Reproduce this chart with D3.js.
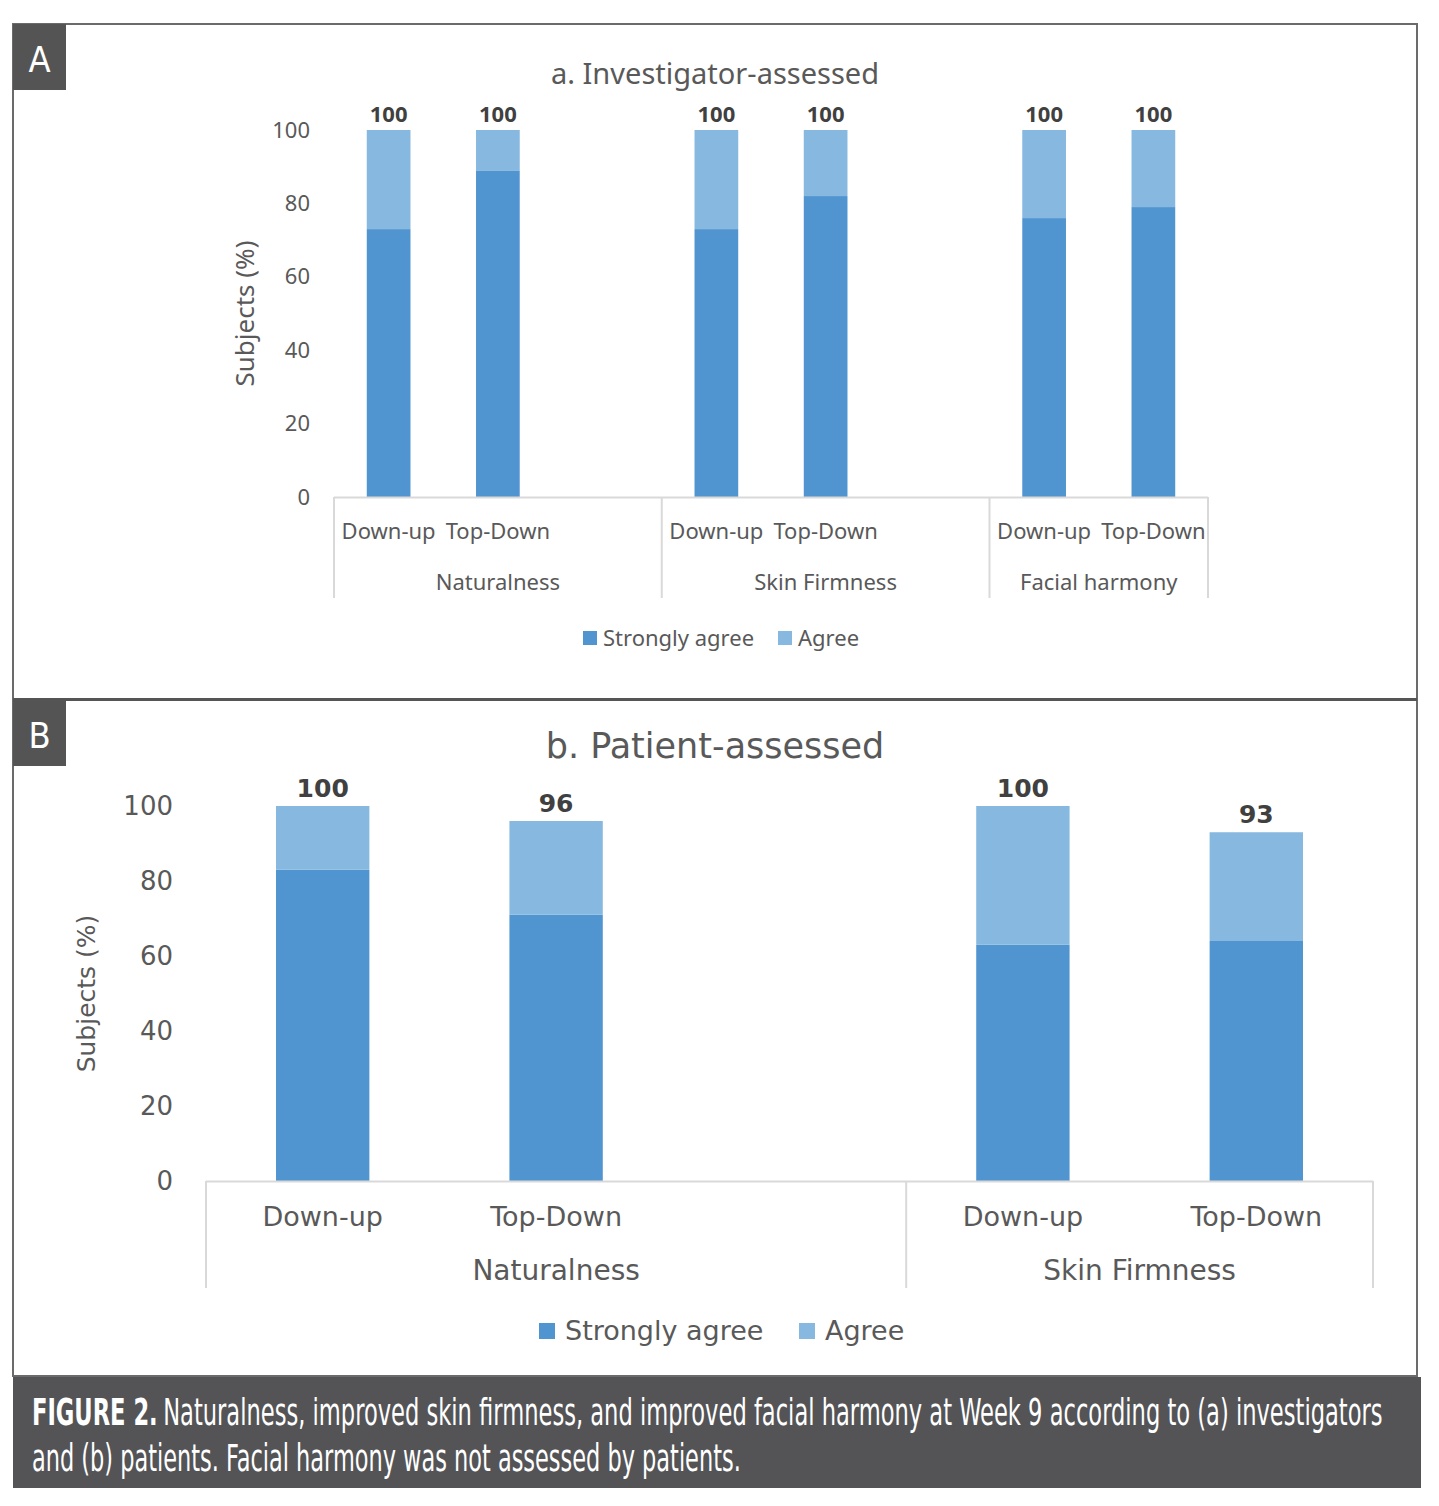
<!DOCTYPE html>
<html lang="en">
<head>
    <meta charset="UTF-8">
    <script src="https://cdnjs.cloudflare.com/ajax/libs/d3/7.8.5/d3.min.js"></script>
    <style>
        body { margin: 0; background: #fff; }
    </style>
</head>
<body>
<div id="figure"></div>

<script>
    // values (percent of subjects)
    var methods = ["Down-up", "Top-Down"];
    var seriesNames = ["Strongly agree", "Agree"];
    var yTicks = [0, 20, 40, 60, 80, 100];

    var investigatorCategories = ["Naturalness", "Skin Firmness", "Facial harmony"];
    var investigatorStrongly = [73, 89, 73, 82, 76, 79];
    var investigatorAgree = [27, 11, 27, 18, 24, 21];
    var investigatorTotals = [100, 100, 100, 100, 100, 100];

    var patientCategories = ["Naturalness", "Skin Firmness"];
    var patientStrongly = [83, 71, 63, 64];
    var patientAgree = [17, 25, 37, 29];
    var patientTotals = [100, 96, 100, 93];

    var colors = ["#5094d0", "#86b8e0"];
    var capFont = "'Liberation Sans Narrow', 'DejaVu Sans Condensed', sans-serif";

    var svg = d3.select("#figure")
        .append("svg")
        .attr("width", 1439)
        .attr("height", 1506);

    svg.append("rect").attr("width", 1439).attr("height", 1506).attr("fill", "#fff");

    // panel frames
    svg.append("rect")
        .attr("x", 13).attr("y", 24).attr("width", 1404).attr("height", 675)
        .attr("fill", "none").attr("stroke", "#6b6b6b").attr("stroke-width", 2);
    svg.append("rect")
        .attr("x", 13).attr("y", 700).attr("width", 1404).attr("height", 676)
        .attr("fill", "none").attr("stroke", "#6b6b6b").attr("stroke-width", 2);
    svg.append("line")
        .attr("x1", 13).attr("x2", 1417).attr("y1", 699.5).attr("y2", 699.5)
        .attr("stroke", "#555").attr("stroke-width", 3);

    panelLabel("A", 24);
    panelLabel("B", 700);

    drawPanel({
        title: "a. Investigator-assessed",
        titleY: 84, titleSize: 29, font: "'Noto Sans', sans-serif",
        categories: investigatorCategories,
        strongly: investigatorStrongly, agree: investigatorAgree, totals: investigatorTotals,
        left: 334, right: 1208, top: 130, bottom: 497, axisBottom: 598,
        tickSize: 22, tickGap: 24,
        yLabelX: 245, yLabelSize: 26,
        methodY: 539, methodSize: 22,
        groupY: 590, groupSize: 22,
        valueSize: 22, valueGap: 8,
        legendY: 638, legendX: 583, legendSquare: 14, legendGap: 6, legendSize: 22, legendStep: 195
    });

    drawPanel({
        title: "b. Patient-assessed",
        titleY: 758, titleSize: 35, font: "'DejaVu Sans', sans-serif",
        categories: patientCategories,
        strongly: patientStrongly, agree: patientAgree, totals: patientTotals,
        left: 206, right: 1373, top: 806, bottom: 1181, axisBottom: 1288,
        tickSize: 26, tickGap: 33,
        yLabelX: 86, yLabelSize: 25,
        methodY: 1226, methodSize: 27,
        groupY: 1280, groupSize: 28,
        valueSize: 25, valueGap: 9,
        legendY: 1331, legendX: 539, legendSquare: 16, legendGap: 10, legendSize: 27, legendStep: 260
    });

    // caption, squeezed horizontally to the width of the printed condensed face
    svg.append("rect")
        .attr("x", 13).attr("y", 1377).attr("width", 1408).attr("height", 111)
        .attr("fill", "#545457");

    captionLine(1425, 1351, "FIGURE 2.", "Naturalness, improved skin firmness, and improved facial harmony at Week 9 according to (a) investigators");
    captionLine(1471, 709, "", "and (b) patients. Facial harmony was not assessed by patients.");

    function captionLine(y, width, boldPart, rest) {
        var line = svg.append("g");
        var offset = 0;
        if (boldPart) {
            var b = line.append("text")
                .attr("fill", "#fff")
                .style("font-family", capFont)
                .style("font-weight", "bold")
                .style("font-size", "37px")
                .text(boldPart);
            offset = b.node().getComputedTextLength() + 8;
        }
        var r = line.append("text")
            .attr("x", offset)
            .attr("fill", "#fff")
            .style("font-family", capFont)
            .style("font-size", "37px")
            .text(rest);
        var total = offset + r.node().getComputedTextLength();
        line.attr("transform", "translate(32," + y + ") scale(" + (width / total) + ",1)");
    }

    function panelLabel(letter, y) {
        svg.append("rect")
            .attr("x", 13).attr("y", y).attr("width", 53).attr("height", 66)
            .attr("fill", "#545454");
        svg.append("text")
            .attr("x", 39.5).attr("y", y + 48)
            .attr("text-anchor", "middle")
            .attr("fill", "#fff")
            .style("font-family", capFont)
            .style("font-size", "36px")
            .text(letter);
    }

    function drawPanel(p) {
        // slot list: each group has its two methods plus a blank gap (not after the last)
        var slots = [];
        var rows = [];
        p.categories.forEach(function (cat, gi) {
            methods.forEach(function (m, mi) {
                var k = gi * methods.length + mi;
                slots.push(cat + "|" + m);
                rows.push({
                    key: cat + "|" + m, method: m,
                    strongly: p.strongly[k], agree: p.agree[k], total: p.totals[k]
                });
            });
            if (gi < p.categories.length - 1) slots.push(cat + "|gap");
        });

        var x = d3.scaleBand().domain(slots).range([p.left, p.right]).padding(0);
        var y = d3.scaleLinear().domain([0, 100]).range([p.bottom, p.top]);
        var barW = x.bandwidth() * 0.4;

        var g = svg.append("g");

        g.append("text")
            .attr("x", 715).attr("y", p.titleY)
            .attr("text-anchor", "middle")
            .attr("fill", "#595959")
            .style("font-family", p.font)
            .style("font-size", p.titleSize + "px")
            .text(p.title);

        // y axis labels only
        var yAxis = g.append("g")
            .attr("transform", "translate(" + (p.left - p.tickGap) + ",0)")
            .call(d3.axisLeft(y).tickValues(yTicks).tickSize(0).tickPadding(0));
        yAxis.select(".domain").remove();
        yAxis.selectAll("text")
            .attr("fill", "#595959")
            .style("font-family", p.font)
            .style("font-size", p.tickSize + "px");

        g.append("text")
            .attr("transform", "translate(" + p.yLabelX + "," + ((p.top + p.bottom) / 2) + ") rotate(-90)")
            .attr("text-anchor", "middle")
            .attr("dy", "0.35em")
            .attr("fill", "#595959")
            .style("font-family", p.font)
            .style("font-size", p.yLabelSize + "px")
            .text("Subjects (%)");

        // stacked bars
        var stack = d3.stack().keys(["strongly", "agree"]);
        var layers = stack(rows);

        g.selectAll("g.layer")
            .data(layers)
            .enter()
            .append("g")
            .attr("fill", function (d, i) { return colors[i]; })
            .selectAll("rect")
            .data(function (d) { return d; })
            .enter()
            .append("rect")
            .attr("x", function (d) { return x(d.data.key) + (x.bandwidth() - barW) / 2; })
            .attr("width", barW)
            .attr("y", function (d) { return y(d[1]); })
            .attr("height", function (d) { return y(d[0]) - y(d[1]); });

        // totals above bars
        g.selectAll("text.total")
            .data(rows)
            .enter()
            .append("text")
            .attr("class", "total")
            .attr("x", function (d) { return x(d.key) + x.bandwidth() / 2; })
            .attr("y", function (d) { return y(d.total) - p.valueGap; })
            .attr("text-anchor", "middle")
            .attr("fill", "#404040")
            .style("font-family", p.font)
            .style("font-weight", "bold")
            .style("font-size", p.valueSize + "px")
            .text(function (d) { return d.total; });

        // x axis: baseline and group separators
        var lineColor = "#d9d9d9";
        g.append("line")
            .attr("x1", p.left).attr("x2", p.right)
            .attr("y1", p.bottom + 0.5).attr("y2", p.bottom + 0.5)
            .attr("stroke", lineColor).attr("stroke-width", 2);

        var bounds = p.categories.map(function (cat) { return x(cat + "|" + methods[0]); });
        bounds.push(p.right);
        g.selectAll("line.sep")
            .data(bounds)
            .enter()
            .append("line")
            .attr("x1", function (d) { return d; }).attr("x2", function (d) { return d; })
            .attr("y1", p.bottom).attr("y2", p.axisBottom)
            .attr("stroke", lineColor).attr("stroke-width", 2);

        g.selectAll("text.method")
            .data(rows)
            .enter()
            .append("text")
            .attr("x", function (d) { return x(d.key) + x.bandwidth() / 2; })
            .attr("y", p.methodY)
            .attr("text-anchor", "middle")
            .attr("fill", "#595959")
            .style("font-family", p.font)
            .style("font-size", p.methodSize + "px")
            .text(function (d) { return d.method; });

        g.selectAll("text.group")
            .data(p.categories)
            .enter()
            .append("text")
            .attr("x", function (d, i) { return (bounds[i] + bounds[i + 1]) / 2; })
            .attr("y", p.groupY)
            .attr("text-anchor", "middle")
            .attr("fill", "#595959")
            .style("font-family", p.font)
            .style("font-size", p.groupSize + "px")
            .text(function (d) { return d; });

        // legend
        var legend = g.selectAll("g.legend")
            .data(seriesNames)
            .enter()
            .append("g")
            .attr("transform", function (d, i) { return "translate(" + (p.legendX + i * p.legendStep) + "," + p.legendY + ")"; });
        legend.append("rect")
            .attr("y", -p.legendSquare / 2)
            .attr("width", p.legendSquare).attr("height", p.legendSquare)
            .attr("fill", function (d, i) { return colors[i]; });
        legend.append("text")
            .attr("x", p.legendSquare + p.legendGap)
            .attr("dy", "0.35em")
            .attr("fill", "#595959")
            .style("font-family", p.font)
            .style("font-size", p.legendSize + "px")
            .text(function (d) { return d; });
    }
</script>
</body>
</html>
